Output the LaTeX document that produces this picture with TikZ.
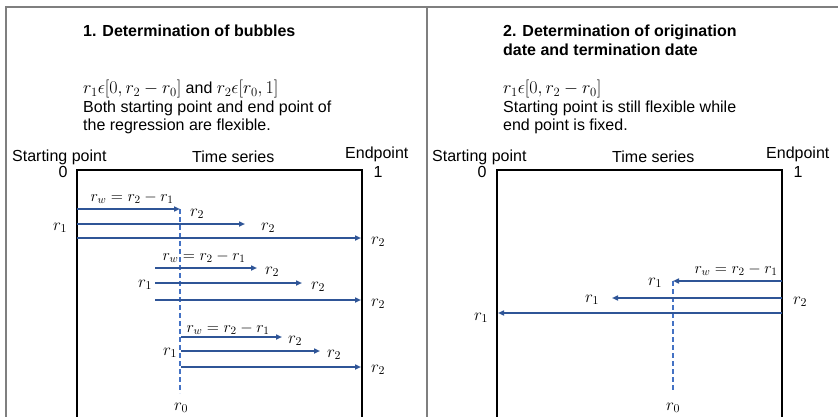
\RequirePackage{fix-cm}
\documentclass[tikz,border=0pt]{standalone}
\usepackage[no-math]{fontspec}
\setmainfont{Liberation Sans}
\usepackage{xcolor}
\usetikzlibrary{arrows.meta, positioning}

\definecolor{framegray}{HTML}{7F7F7F}
\definecolor{arrowblue}{HTML}{2F5597}
\definecolor{dashblue}{HTML}{4472C4}

% slightly larger math for the interval lines
\newcommand{\bigmath}[1]{{\fontsize{18}{18}\selectfont$#1$}}

\begin{document}
\begin{tikzpicture}[
x=1pt, y=-1pt,
font=\fontsize{16}{18.5}\selectfont,
txt/.style={anchor=base west, inner sep=0pt, align=left},
lbl/.style={inner sep=0pt, font=\fontsize{17}{18}\selectfont},
wlbl/.style={inner sep=0pt, font=\fontsize{16}{18}\selectfont},
frame/.style={draw=framegray, line width=1.5pt},
series/.style={draw=black, line width=2pt},
regline/.style={draw=arrowblue, line width=1.6pt, -{Triangle[length=6pt,width=5pt]}},
origin/.style={draw=dashblue, line width=1.1pt, dash pattern=on 5pt off 3pt}
]
\useasboundingbox (0,0) rectangle (838,417);

% outer frame and divider
\draw[frame] (6,417) -- (6,7) -- (838,7);
\draw[frame] (427,7) -- (427,417);

% left panel: bubbles
\node[txt, font=\fontsize{16}{19}\selectfont\bfseries] (titleA) at (83,37) {1. Determination of bubbles};
\node[txt] (condA) at (83,131) {\bigmath{r_1\epsilon[0,r_2-r_0]} and \bigmath{r_2\epsilon[r_0,1]}\\Both starting point and end point of\\the regression are flexible.};

\draw[series] (77,417) -- (77,170) -- (362,170) -- (362,417);
\node[txt] (startA) at (12,161) {Starting point};
\node[txt] (seriesA) at (192,162) {Time series};
\node[txt] (endA) at (345,159) {Endpoint};
\node[wlbl] (zeroA) at (63,172) {0};
\node[wlbl] (oneA) at (378,172) {1};

\coordinate (a1s) at (77,209);  \coordinate (a1e) at (180,209);
\coordinate (a2s) at (77,224);  \coordinate (a2e) at (245,224);
\coordinate (a3s) at (77,238);  \coordinate (a3e) at (361,238);
\coordinate (b1s) at (155,268); \coordinate (b1e) at (257,268);
\coordinate (b2s) at (155,283); \coordinate (b2e) at (302,283);
\coordinate (b3s) at (155,300); \coordinate (b3e) at (361,300);
\coordinate (c1s) at (181,337); \coordinate (c1e) at (282,337);
\coordinate (c2s) at (181,351); \coordinate (c2e) at (320,351);
\coordinate (c3s) at (181,367); \coordinate (c3e) at (361,367);

\draw[origin] (180,209) -- (180,393);

\draw[regline] (a1s) -- (a1e);
\draw[regline] (a2s) -- (a2e);
\draw[regline] (a3s) -- (a3e);
\draw[regline] (b1s) -- (b1e);
\draw[regline] (b2s) -- (b2e);
\draw[regline] (b3s) -- (b3e);
\draw[regline] (c1s) -- (c1e);
\draw[regline] (c2s) -- (c2e);
\draw[regline] (c3s) -- (c3e);

\node[wlbl] (wa) at (132,198) {$r_w=r_2-r_1$};
\node[lbl] (a1r) at (197,214) {$r_2$};
\node[lbl] (a2l) at (60,228) {$r_1$};
\node[lbl] (a2r) at (268,228) {$r_2$};
\node[lbl] (a3r) at (378,242) {$r_2$};
\node[wlbl] (wb) at (204,257) {$r_w=r_2-r_1$};
\node[lbl] (b1r) at (272,272) {$r_2$};
\node[lbl] (b2l) at (145,285) {$r_1$};
\node[lbl] (b2r) at (318,287) {$r_2$};
\node[lbl] (b3r) at (378,304) {$r_2$};
\node[wlbl] (wc) at (228,329) {$r_w=r_2-r_1$};
\node[lbl] (c1r) at (295,341) {$r_2$};
\node[lbl] (c2l) at (170,353) {$r_1$};
\node[lbl] (c2r) at (334,355) {$r_2$};
\node[lbl] (c3r) at (378,370) {$r_2$};
\node[lbl] (zeroRA) at (181,408) {$r_0$};

% right panel: origination and termination
\node[txt, font=\fontsize{16}{19}\selectfont\bfseries] (titleB) at (503,56) {2. Determination of origination\\date and termination date};
\node[txt] (condB) at (503,131) {\bigmath{r_1\epsilon[0,r_2-r_0]}\\Starting point is still flexible while\\end point is fixed.};

\draw[series] (497,417) -- (497,170) -- (782,170) -- (782,417);
\node[txt] (startB) at (432,161) {Starting point};
\node[txt] (seriesB) at (612,162) {Time series};
\node[txt] (endB) at (766,159) {Endpoint};
\node[wlbl] (zeroB) at (482,172) {0};
\node[wlbl] (oneB) at (798,172) {1};

\coordinate (d1s) at (782,281); \coordinate (d1e) at (673,281);
\coordinate (d2s) at (782,298); \coordinate (d2e) at (612,298);
\coordinate (d3s) at (782,313); \coordinate (d3e) at (498,313);

\draw[origin] (673,281) -- (673,392);

\draw[regline] (d1s) -- (d1e);
\draw[regline] (d2s) -- (d2e);
\draw[regline] (d3s) -- (d3e);

\node[wlbl] (wd) at (736,270) {$r_w=r_2-r_1$};
\node[lbl] (d1l) at (655,283) {$r_1$};
\node[lbl] (d2l) at (592,300) {$r_1$};
\node[lbl] (d2r) at (800,302) {$r_2$};
\node[lbl] (d3l) at (481,318) {$r_1$};
\node[lbl] (zeroRB) at (673,408) {$r_0$};

\end{tikzpicture}
\end{document}
